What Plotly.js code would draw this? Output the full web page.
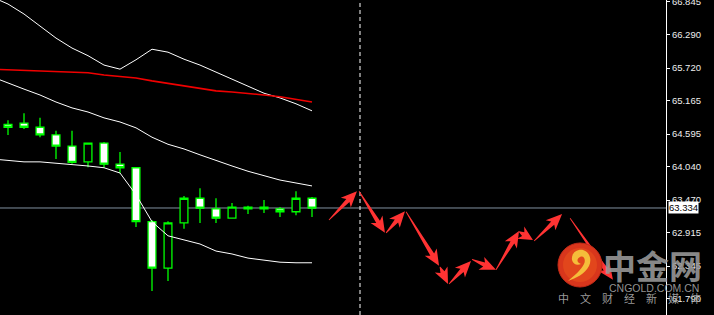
<!DOCTYPE html>
<html>
<head>
<meta charset="utf-8">
<script src="https://cdn.plot.ly/plotly-3.0.1.min.js"></script>
<style>html,body{margin:0;padding:0;background:#000;}#chart{width:714px;height:315px;}</style>
</head>
<body>
<div id="chart"></div>
<script>
// ---- candle data (bar index, OHLC) ----
const barIndex = [0,1,2,3,4,5,6,7,8,9,10,11,12,13,14,15,16,17,18,19];
const openP  = [64.76,64.78,64.71,64.58,64.39,64.12,64.44,64.08,64.02,63.10,62.31,63.08,63.50,63.32,63.16,63.35,63.35,63.32,63.27,63.50];
const highP  = [64.83,64.95,64.87,64.65,64.65,64.44,64.46,64.29,64.03,63.13,63.11,63.54,63.67,63.50,63.42,63.37,63.47,63.35,63.62,63.52];
const lowP   = [64.58,64.68,64.54,64.17,64.09,64.03,64.02,63.93,63.01,61.92,62.09,62.98,63.08,63.08,63.15,63.23,63.25,63.18,63.21,63.18];
const closeP = [64.71,64.71,64.58,64.39,64.11,64.44,64.08,64.02,63.10,62.31,63.08,63.50,63.33,63.16,63.35,63.32,63.32,63.27,63.50,63.33];

// ---- indicator lines (bar index -1 .. 19) ----
const lineIndex = [-1,0,1,2,3,4,5,6,7,8,9,10,11,12,13,14,15,16,17,18,19];
const upperBand = [66.93,66.81,66.64,66.44,66.23,66.06,65.93,65.77,65.70,65.86,66.04,65.99,65.87,65.77,65.65,65.52,65.40,65.29,65.21,65.11,64.99];
const redMA     = [65.70,65.69,65.69,65.68,65.67,65.65,65.64,65.60,65.58,65.55,65.50,65.46,65.41,65.38,65.33,65.31,65.29,65.26,65.23,65.19,65.14];
const midLine   = [65.57,65.46,65.36,65.26,65.14,65.04,64.97,64.87,64.80,64.70,64.54,64.42,64.34,64.24,64.14,64.05,63.96,63.88,63.81,63.76,63.71];
const lowerBand = [64.17,64.14,64.12,64.12,64.10,64.08,64.05,64.02,63.93,63.56,63.10,62.86,62.79,62.72,62.60,62.55,62.48,62.45,62.41,62.40,62.40];

// ---- forecast arrows (start -> end) ----
const arrowStartX = [20.06,21.94,23.63,24.88,27.00,27.56,29.00,30.50,31.94,32.88,35.13];
const arrowStartY = [63.13,63.62,62.91,63.27,62.33,62.04,62.46,62.28,62.93,62.77,63.16];
const arrowEndX   = [21.81,23.56,24.81,26.94,27.50,28.94,30.50,31.94,32.81,34.63,37.81];
const arrowEndY   = [63.62,62.91,63.28,62.35,62.04,62.43,62.28,62.94,62.79,63.23,62.11];

// ---- axis ----
const priceTicks = [66.845,66.290,65.720,65.165,64.595,64.040,63.470,62.915,62.345,61.790];
const priceTickText = ["66.845","66.290","65.720","65.165","64.595","64.040","63.470","62.915","62.345","61.790"];
const currentPrice = 63.334;
const currentPriceText = "63.334";
const forecastStartBar = 22;

const W = 714, H = 315, MR = 48;
const xRange = [-0.5, 41.125];
const yRange = [61.510, 66.879];
const plotW = W - MR, plotH = H;
const pxX = plotW / (xRange[1]-xRange[0]);
const pxY = plotH / (yRange[1]-yRange[0]);

function arrowPath(x0,y0,x1,y1){
  const X0 = x0*pxX, Y0 = y0*pxY, X1 = x1*pxX, Y1 = y1*pxY;
  const dx = X1-X0, dy = Y1-Y0, L = Math.hypot(dx,dy);
  const ux = dx/L, uy = dy/L, nx = -uy, ny = ux;
  const hl = Math.min(13, L*0.7), hw = 7, sw = 2.2, tw = 0.4;
  const bx = X1-ux*hl, by = Y1-uy*hl;
  const bbx = X1-ux*(hl+3), bby = Y1-uy*(hl+3);
  const pts = [
    [X0+nx*tw, Y0+ny*tw],
    [bx+nx*sw, by+ny*sw],
    [bbx+nx*hw, bby+ny*hw],
    [X1, Y1],
    [bbx-nx*hw, bby-ny*hw],
    [bx-nx*sw, by-ny*sw],
    [X0-nx*tw, Y0-ny*tw]
  ];
  return 'M' + pts.map(p => (p[0]/pxX).toFixed(4)+','+(p[1]/pxY).toFixed(4)).join(' L') + ' Z';
}

const traces = [
  {type:'scatter', mode:'lines', x:lineIndex, y:upperBand, line:{color:'#ffffff', width:1}, hoverinfo:'skip'},
  {type:'scatter', mode:'lines', x:lineIndex, y:redMA, line:{color:'#f00000', width:1.6}, hoverinfo:'skip'},
  {type:'scatter', mode:'lines', x:lineIndex, y:midLine, line:{color:'#ffffff', width:1}, hoverinfo:'skip'},
  {type:'scatter', mode:'lines', x:lineIndex, y:lowerBand, line:{color:'#ffffff', width:1}, hoverinfo:'skip'},
  {type:'candlestick', x:barIndex, open:openP, high:highP, low:lowP, close:closeP,
   increasing:{line:{color:'#00ff00', width:1.3}, fillcolor:'#000000'},
   decreasing:{line:{color:'#00ff00', width:1.3}, fillcolor:'#ffffff'},
   hoverinfo:'skip'}
];

const shapes = [
  {type:'line', xref:'x', yref:'y', x0:xRange[0], x1:xRange[1], y0:currentPrice, y1:currentPrice,
   line:{color:'#8090a0', width:1}, layer:'below'},
  {type:'line', xref:'x', yref:'paper', x0:forecastStartBar, x1:forecastStartBar, y0:0, y1:1,
   line:{color:'#ffffff', width:1, dash:'4px,3px'}}
];
for (let i=0;i<arrowStartX.length;i++){
  shapes.push({type:'path', xref:'x', yref:'y', path:arrowPath(arrowStartX[i],arrowStartY[i],arrowEndX[i],arrowEndY[i]),
    fillcolor:'#ff3333', line:{width:0}});
}
// logo (cngold)
const lx = 580/plotW, ly = 1-265/plotH;
shapes.push({type:'circle', xref:'paper', yref:'paper', xsizemode:'pixel', ysizemode:'pixel', xanchor:lx, yanchor:ly,
  x0:-22, x1:22, y0:-22, y1:22, fillcolor:'#d8361c', line:{color:'#c42a18', width:1}});
shapes.push({type:'circle', xref:'paper', yref:'paper', xsizemode:'pixel', ysizemode:'pixel', xanchor:lx, yanchor:ly,
  x0:-17, x1:17, y0:-17, y1:17, fillcolor:'#e2461c', line:{width:0}});
shapes.push({type:'path', xref:'paper', yref:'paper', xsizemode:'pixel', ysizemode:'pixel', xanchor:lx, yanchor:ly,
  path:'M -12,-16 C -4,-13 5,-9 9,-1 C 12,5 10,13 3,15 C -4,16 -9,11 -8,5 C -7,1 -3,-1 1,1 C -3,2 -4,6 0,8 C 4,10 6,5 4,1 C 1,-5 -6,-11 -12,-16 Z',
  fillcolor:'#f5bd3a', line:{width:0}});

const annotations = [
  {xref:'paper', yref:'y', x:1, y:currentPrice, xanchor:'left', yanchor:'middle', xshift:2, showarrow:false,
   text:currentPriceText, bgcolor:'#ffffff', borderpad:0, font:{family:'Liberation Sans, Arial', size:9.5, color:'#000000'}},
  {xref:'paper', yref:'paper', x:652/plotW, y:1-265/plotH, xanchor:'center', yanchor:'middle', showarrow:false,
   text:'<b>中金网</b>', font:{family:'Noto Sans CJK SC', size:33, color:'rgba(150,150,150,0.92)'}},
  {xref:'paper', yref:'paper', x:654/plotW, y:1-288/plotH, xanchor:'center', yanchor:'middle', showarrow:false,
   text:'CNGOLD.COM.CN', font:{family:'Liberation Sans, Arial', size:10.5, color:'rgba(160,160,160,0.92)'}},
  {xref:'paper', yref:'paper', x:629/plotW, y:1-298/plotH, xanchor:'center', yanchor:'middle', showarrow:false,
   text:'中\u2003文\u2003财\u2003经\u2003新\u2003媒\u2003体', font:{family:'Noto Sans CJK SC', size:11, color:'rgba(170,170,170,0.92)'}}
];

const layout = {
  width:W, height:H, margin:{l:0, r:MR, t:0, b:0, pad:0},
  paper_bgcolor:'#000000', plot_bgcolor:'#000000', showlegend:false,
  xaxis:{range:xRange, visible:false, rangeslider:{visible:false}, fixedrange:true},
  yaxis:{range:yRange, side:'right', tickmode:'array', tickvals:priceTicks, ticktext:priceTickText,
    showgrid:false, zeroline:false, showline:true, linecolor:'#ffffff', linewidth:1,
    ticks:'outside', ticklen:3, tickcolor:'#ffffff', ticklabeloverflow:'allow',
    tickfont:{family:'Liberation Sans, Arial', size:9.5, color:'#eeeeee'},
    fixedrange:true},
  shapes:shapes, annotations:annotations
};

Plotly.newPlot('chart', traces, layout, {displayModeBar:false, staticPlot:true});
</script>
</body>
</html>
